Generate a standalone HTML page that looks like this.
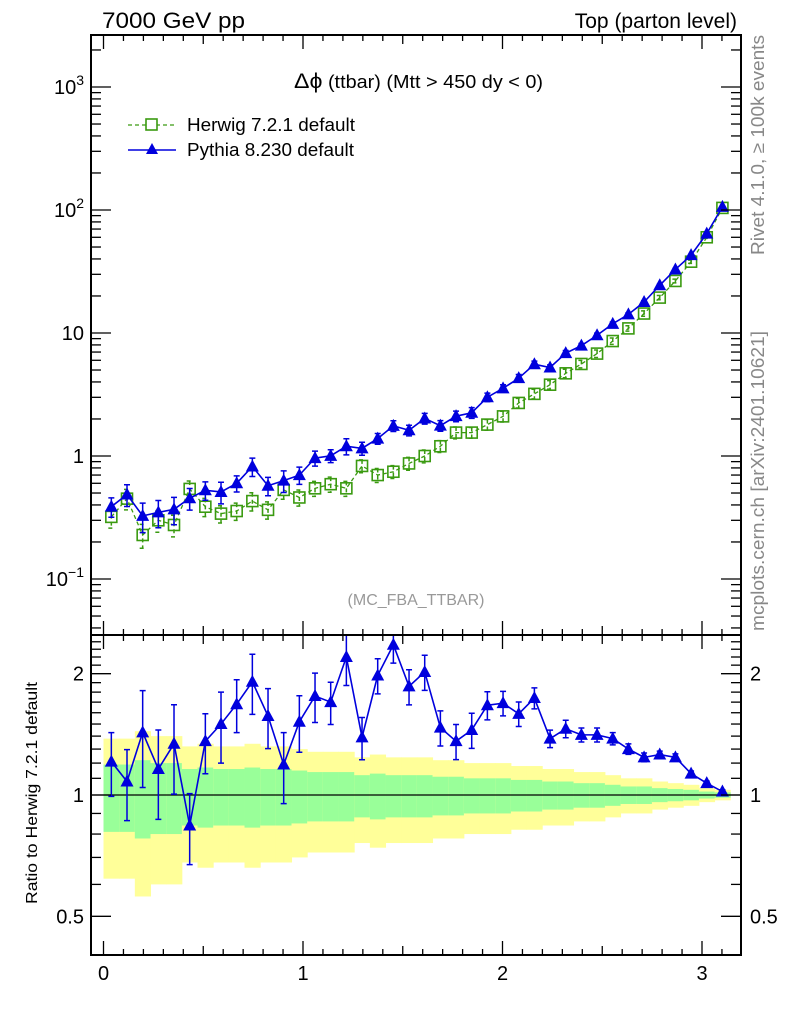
<!DOCTYPE html>
<html><head><meta charset="utf-8"><style>
html,body{margin:0;padding:0;background:#fff}
svg{display:block;font-family:"Liberation Sans",sans-serif}
</style></head><body>
<svg id="chart" width="786" height="1024" viewBox="0 0 786 1024">
<text x="102" y="28" font-size="22" textLength="143" lengthAdjust="spacingAndGlyphs">7000 GeV pp</text>
<text x="737" y="28" font-size="21" text-anchor="end">Top (parton level)</text>
<text x="294" y="88" font-size="18" textLength="249" lengthAdjust="spacingAndGlyphs"><tspan font-size="21">Δϕ</tspan> (ttbar) (Mtt &gt; 450 dy &lt; 0)</text>
<text x="416" y="605" font-size="16" fill="#999" text-anchor="middle">(MC_FBA_TTBAR)</text>
<text transform="translate(764,255) rotate(-90)" font-size="18" fill="#888" textLength="220" lengthAdjust="spacingAndGlyphs">Rivet 4.1.0, ≥ 100k events</text>
<text transform="translate(764,631) rotate(-90)" font-size="18" fill="#888" textLength="300" lengthAdjust="spacingAndGlyphs">mcplots.cern.ch [arXiv:2401.10621]</text>
<text transform="translate(37,793) rotate(-90)" font-size="16" text-anchor="middle" textLength="222" lengthAdjust="spacingAndGlyphs">Ratio to Herwig 7.2.1 default</text>
<g>
<g>
<line x1="128" y1="125" x2="176" y2="125" stroke="#3a9a10" stroke-width="1.3" stroke-dasharray="4,3"/>
<rect x="146" y="119" width="11" height="11" fill="#fff" stroke="#3a9a10" stroke-width="1.6"/>
<text x="187" y="131" font-size="18" textLength="168" lengthAdjust="spacingAndGlyphs">Herwig 7.2.1 default</text></g>
<g>
<line x1="128" y1="150" x2="176" y2="150" stroke="#0000dd" stroke-width="1.6"/>
<polygon points="152,143 158,154 146,154" fill="#0000dd"/>
<text x="187" y="156" font-size="18" textLength="167" lengthAdjust="spacingAndGlyphs">Pythia 8.230 default</text></g>
</g>
<g id="plots"></g>
</svg>
<script>
const herwig=[0.32,0.45,0.228,0.30,0.275,0.54,0.387,0.34,0.357,0.43,0.365,0.53,0.46,0.546,0.59,0.546,0.83,0.70,0.745,0.87,1.0,1.2,1.55,1.55,1.8,2.1,2.7,3.2,3.8,4.7,5.6,6.8,8.6,10.9,14.4,19.4,26.5,38,60,104];
const ratio=[1.21,1.08,1.43,1.16,1.34,0.84,1.36,1.50,1.68,1.91,1.57,1.19,1.52,1.76,1.70,2.20,1.39,1.98,2.36,1.86,2.02,1.47,1.36,1.45,1.67,1.69,1.59,1.74,1.38,1.46,1.41,1.41,1.38,1.30,1.24,1.26,1.24,1.13,1.07,1.02];
const pythia=herwig.map((h,i)=>+(h*ratio[i]).toFixed(4));
const herwigErr=[0.19,0.19,0.22,0.20,0.20,0.16,0.17,0.16,0.16,0.17,0.16,0.16,0.15,0.14,0.14,0.14,0.12,0.13,0.12,0.12,0.12,0.11,0.11,0.10,0.10,0.10,0.09,0.09,0.08,0.08,0.07,0.07,0.06,0.05,0.05,0.04,0.035,0.03,0.02,0.015];
const pythiaErr=[0.18,0.2,0.27,0.25,0.25,0.2,0.17,0.2,0.15,0.17,0.17,0.2,0.16,0.14,0.12,0.15,0.12,0.1,0.1,0.1,0.1,0.1,0.1,0.1,0.08,0.07,0.07,0.06,0.05,0.05,0.04,0.04,0.035,0.03,0.025,0.02,0.02,0.015,0.012,0.01];
const xTicks=[0,1,2,3];
const mainTicks=[{v:0.1,l:'10',e:'−1'},{v:1,l:'1'},{v:10,l:'10'},{v:100,l:'10',e:'2'},{v:1000,l:'10',e:'3'}];
const ratioTicks=[0.5,1,2];
const NS='http://www.w3.org/2000/svg';
const L=91,R=741,T1=35,B1=635,T2=635,B2=955;
const X=v=>103.5+v*199.5;
const Y1=v=>456-Math.log10(v)*123;
const Y2=v=>795-Math.log10(v)*403;
const g=document.getElementById('plots');
function mk(tag,at,parent){const e=document.createElementNS(NS,tag);for(const k in at)e.setAttribute(k,at[k]);(parent||g).appendChild(e);return e;}
const n=herwig.length,bw=Math.PI/n;
const bands=mk('g',{});


for(let i=0;i<n;i++){const x0=X(i*bw),x1=X((i+1)*bw),s=herwigErr[i];
 const y=mk('rect',{x:x0,y:Y2(1+2*s),width:x1-x0+0.5,height:Y2(Math.max(1-2*s,0.41))-Y2(1+2*s),fill:'#ffff99'},bands);
 
 
 const gr=mk('rect',{x:x0,y:Y2(1+s),width:x1-x0+0.5,height:Y2(1-s)-Y2(1+s),fill:'#99ff99'},bands);
 
 }
const one=mk('line',{x1:L,x2:R,y1:Y2(1),y2:Y2(1),stroke:'#000','stroke-width':1.2});


function series(vals,errs,Yf,color,dash,marker,name,clipTop){
 const sg=mk('g',{});
 
 
 const pts=vals.map((v,i)=>[X((i+0.5)*bw),Yf(v)]);
 const pl=mk('polyline',{points:pts.map(p=>p.join(',')).join(' '),fill:'none',stroke:color,'stroke-width':marker==='tri'?1.6:1.3,'stroke-dasharray':dash||'none'},sg);
 
 
 vals.forEach((v,i)=>{const x=pts[i][0];let yt=Yf(v*(1+errs[i])),yb=Yf(v*(1-errs[i]));yt=Math.max(yt,clipTop);
  const eb=mk('path',{d:`M${x},${yt}V${yb}M${x-3},${yt}H${x+3}M${x-3},${yb}H${x+3}`,stroke:color,'stroke-width':1.5,fill:'none','stroke-dasharray':dash||'none'},sg);
  
  
  const y=pts[i][1];let m;
  if(marker==='tri')m=mk('polygon',{points:`${x},${y-7} ${x+6.5},${y+5} ${x-6.5},${y+5}`,fill:color},sg);
  else m=mk('rect',{x:x-5.5,y:y-5.5,width:11,height:11,fill:'none',stroke:color,'stroke-width':1.6},sg);
  
  });
}
series(herwig,herwigErr,Y1,'#3a9a10','4,3','sq','herwig-series',T1);
series(pythia,pythiaErr,Y1,'#0000dd',null,'tri','pythia-series',T1);
series(ratio,pythiaErr,Y2,'#0000dd',null,'tri','pythia-ratio-series',T2);
[[T1,B1,'main-frame'],[T2,B2,'ratio-frame']].forEach(f=>{const r=mk('rect',{x:L,y:f[0],width:R-L,height:f[1]-f[0],fill:'none',stroke:'#000','stroke-width':2});
 
 });
const ax=mk('g',{stroke:'#000','stroke-width':1.3});


function tk(x1,y1,x2,y2){mk('line',{x1,y1,x2,y2},ax);}
for(let k=0;k<=31;k++){const v=k/10,x=X(v);const len=(k%10===0)?14:(k%5===0?9:6);
 [[T1,1],[B1,-1],[T2,1],[B2,-1]].forEach(p=>tk(x,p[0],x,p[0]+p[1]*len));}
for(let d=-2;d<=3;d++)for(let m=1;m<10;m++){const v=m*Math.pow(10,d),y=Y1(v);if(y<T1||y>B1)continue;const len=m===1?20:10;tk(L,y,L+len,y);tk(R,y,R-len,y);}
for(let k=4;k<=25;k++){const v=k/10,y=Y2(v);if(y<T2||y>B2)continue;const len=(k===5||k===10||k===20)?20:10;tk(L,y,L+len,y);tk(R,y,R-len,y);}
const lab=mk('g',{'font-size':'20'});


xTicks.forEach(v=>{const t=mk('text',{x:X(v),y:980,'text-anchor':'middle'},lab);t.textContent=v;
 
 });
mainTicks.forEach(o=>{const t=mk('text',{x:84,y:Y1(o.v)+7,'text-anchor':'end'},lab);t.textContent=o.l;
 if(o.e){const s=mk('tspan',{dy:-9,'font-size':'14'},t);s.textContent=o.e;}
 
 });
ratioTicks.forEach(v=>{[[84,'end'],[750,'start']].forEach(p=>{const t=mk('text',{x:p[0],y:Y2(v)+7,'text-anchor':p[1]},lab);t.textContent=v;
 
 });});
</script>
</body></html>
